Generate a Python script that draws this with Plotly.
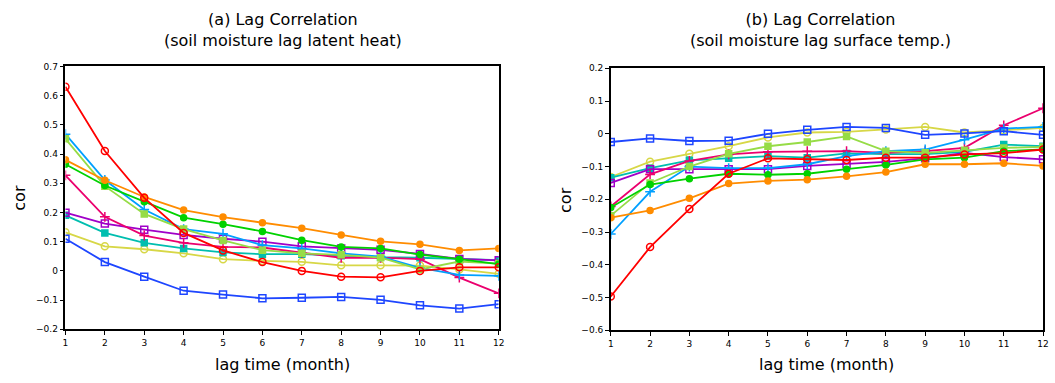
import plotly.graph_objects as go

lags = list(range(1, 13))
tick_vals_x = lags

# (a) soil moisture lag latent heat
a_red = [0.63, 0.41, 0.25, 0.13, 0.07, 0.03, 0.0, -0.02, -0.022, 0.0, 0.012, 0.012]
a_blue = [0.11, 0.03, -0.02, -0.068, -0.081, -0.094, -0.092, -0.089, -0.099, -0.118, -0.129, -0.114]
a_orange = [0.38, 0.31, 0.253, 0.208, 0.184, 0.165, 0.146, 0.123, 0.101, 0.091, 0.07, 0.077]
a_green = [0.365, 0.292, 0.237, 0.182, 0.16, 0.135, 0.105, 0.082, 0.077, 0.056, 0.04, 0.023]
a_lgreen = [0.452, 0.29, 0.195, 0.143, 0.104, 0.071, 0.06, 0.055, 0.045, 0.005, 0.032, 0.025]
a_sky = [0.468, 0.311, 0.21, 0.143, 0.127, 0.088, 0.077, 0.06, 0.049, 0.01, -0.014, -0.017]
a_crimson = [0.327, 0.185, 0.121, 0.096, 0.082, 0.08, 0.062, 0.045, 0.045, 0.04, -0.023, -0.077]
a_purple = [0.199, 0.162, 0.141, 0.123, 0.11, 0.1, 0.084, 0.077, 0.072, 0.058, 0.041, 0.036]
a_teal = [0.19, 0.13, 0.096, 0.077, 0.063, 0.057, 0.057, 0.052, 0.047, 0.045, 0.04, 0.037]
a_yellow = [0.132, 0.084, 0.074, 0.06, 0.04, 0.034, 0.031, 0.019, 0.019, 0.018, 0.005, -0.01]

# (b) soil moisture lag surface temp.
b_red = [-0.497, -0.346, -0.23, -0.122, -0.075, -0.078, -0.08, -0.073, -0.073, -0.063, -0.059, -0.048]
b_blue = [-0.025, -0.014, -0.022, -0.021, 0.0, 0.012, 0.021, 0.018, -0.003, 0.001, 0.008, -0.003]
b_orange = [-0.256, -0.234, -0.197, -0.152, -0.144, -0.14, -0.13, -0.117, -0.093, -0.093, -0.09, -0.098]
b_green = [-0.225, -0.155, -0.137, -0.122, -0.125, -0.122, -0.108, -0.095, -0.078, -0.073, -0.053, -0.048]
b_lgreen = [-0.25, -0.15, -0.1, -0.061, -0.038, -0.025, -0.008, -0.053, -0.058, -0.05, -0.043, -0.04]
b_sky = [-0.306, -0.177, -0.1, -0.105, -0.105, -0.093, -0.068, -0.053, -0.048, -0.018, 0.016, 0.021]
b_crimson = [-0.222, -0.124, -0.083, -0.063, -0.055, -0.053, -0.053, -0.058, -0.053, -0.043, 0.026, 0.078]
b_purple = [-0.15, -0.108, -0.108, -0.108, -0.108, -0.098, -0.093, -0.086, -0.075, -0.058, -0.071, -0.078]
b_teal = [-0.134, -0.105, -0.081, -0.075, -0.068, -0.073, -0.06, -0.062, -0.062, -0.055, -0.033, -0.038]
b_yellow = [-0.132, -0.085, -0.061, -0.038, -0.011, 0.004, 0.006, 0.013, 0.021, 0.004, 0.01, 0.018]

styles = {
    "yellow": ("rgb(215,215,70)", "circle-open"),
    "teal": ("rgb(0,190,175)", "square"),
    "purple": ("rgb(160,0,200)", "square-open"),
    "crimson": ("rgb(235,0,110)", "cross-thin"),
    "sky": ("rgb(0,160,255)", "cross-thin"),
    "lgreen": ("rgb(150,220,70)", "square"),
    "green": ("rgb(0,210,0)", "circle"),
    "orange": ("rgb(255,140,0)", "circle"),
    "blue": ("rgb(30,70,255)", "square-open"),
    "red": ("rgb(255,0,0)", "circle-open"),
}

series_a = {"yellow": a_yellow, "teal": a_teal, "purple": a_purple, "crimson": a_crimson,
            "sky": a_sky, "lgreen": a_lgreen, "green": a_green, "orange": a_orange,
            "blue": a_blue, "red": a_red}
series_b = {"yellow": b_yellow, "teal": b_teal, "purple": b_purple, "crimson": b_crimson,
            "sky": b_sky, "lgreen": b_lgreen, "green": b_green, "orange": b_orange,
            "blue": b_blue, "red": b_red}

fig = go.Figure()
for xa, ya, ser in (("x", "y", series_a), ("x2", "y2", series_b)):
    for key, vals in ser.items():
        col, sym = styles[key]
        size = 7 if ("open" in sym or "cross" in sym) else 6
        fig.add_trace(go.Scatter(
            x=lags, y=vals, mode="lines+markers", xaxis=xa, yaxis=ya,
            line=dict(color=col, width=1.8),
            marker=dict(symbol=sym, size=size, color=col,
                        line=dict(color=col, width=1.5)),
            showlegend=False, hoverinfo="skip"))

ax_common = dict(showline=True, linecolor="black", linewidth=1.5, mirror=True,
                 ticks="outside", ticklen=4, tickwidth=1, tickcolor="black",
                 showgrid=False, zeroline=False,
                 tickfont=dict(family="DejaVu Sans", size=9, color="black"))

W, H = 1055, 383
def px_x(p):
    return p / W
def px_y(p):
    return 1 - p / H

fig.update_layout(
    width=W, height=H, margin=dict(l=0, r=0, t=0, b=0),
    paper_bgcolor="white", plot_bgcolor="white",
    xaxis=dict(domain=[px_x(63), px_x(500)], range=[1, 12], tickvals=tick_vals_x, anchor="y", **ax_common),
    yaxis=dict(domain=[px_y(333), px_y(63)], range=[-0.2, 0.7], dtick=0.1, tick0=0, anchor="x", **ax_common),
    xaxis2=dict(domain=[px_x(613), px_x(1049)], range=[1, 12], tickvals=tick_vals_x, anchor="y2", **ax_common),
    yaxis2=dict(domain=[px_y(334), px_y(65)], range=[-0.6, 0.2], dtick=0.1, tick0=0, anchor="x2", **ax_common),
)

font_t = dict(family="DejaVu Sans", size=16, color="black")
annots = [
    (px_x(282), px_y(26), "(a) Lag Correlation<br>(soil moisture lag latent heat)", 0),
    (px_x(825), px_y(26), "(b) Lag Correlation<br>(soil moisture lag surface temp.)", 0),
    (px_x(282), px_y(369), "lag time (month)", 0),
    (px_x(831), px_y(369), "lag time (month)", 0),
    (px_x(17), px_y(198), "cor", -90),
    (px_x(568), px_y(200), "cor", -90),
]
for x, y, t, ang in annots:
    fig.add_annotation(x=x, y=y, xref="paper", yref="paper", text=t, showarrow=False,
                       font=font_t, textangle=ang, xanchor="center", yanchor="middle")

fig.write_html("out.html", config={"displayModeBar": False},
               post_script="document.body.style.margin='0px';document.body.style.overflow='hidden';")
